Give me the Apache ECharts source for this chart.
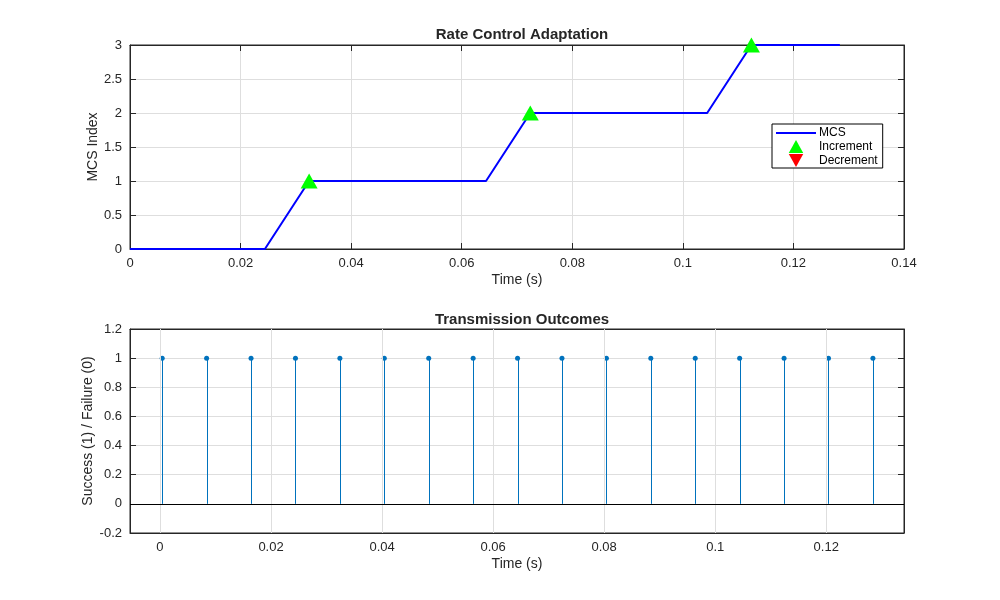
<!DOCTYPE html>
<html>
<head>
<meta charset="utf-8">
<script src="https://cdn.jsdelivr.net/npm/echarts@6/dist/echarts.min.js"></script>
<style>
  html, body { margin: 0; padding: 0; background: #fff; }
  #main { width: 1000px; height: 600px; }
</style>
</head>
<body>
<div id="main"></div>
<script>
// transmission times (s), one per packet
var txTimes = [0.0004, 0.0084, 0.0164, 0.0244, 0.0324, 0.0404, 0.0484, 0.0564, 0.0644,
               0.0724, 0.0804, 0.0884, 0.0964, 0.1044, 0.1124, 0.1204, 0.1284];
var mcsIndex = [0, 0, 0, 0, 1, 1, 1, 1, 1, 2, 2, 2, 2, 2, 3, 3, 3];
var outcome = [1, 1, 1, 1, 1, 1, 1, 1, 1, 1, 1, 1, 1, 1, 1, 1, 1];
var incTimes = [0.0324, 0.0724, 0.1124];
var incValues = [1, 2, 3];
var decTimes = [];
var decValues = [];
var bottomTicks = [0, 0.02, 0.04, 0.06, 0.08, 0.1, 0.12];

var mcsLine = txTimes.map(function (t, i) { return [i === 0 ? 0 : t, mcsIndex[i]]; });
var incPts = incTimes.map(function (t, i) { return [t, incValues[i]]; });
var decPts = decTimes.map(function (t, i) { return [t, decValues[i]]; });
var outPts = txTimes.map(function (t, i) { return [t, outcome[i]]; });

var txt = '#262626';
var gridCol = '#dedede';
var font = 'Liberation Sans, Arial';
var upTri = 'path://M5,0 L10,9 L0,9 Z';
var downTri = 'path://M0,0 L10,0 L5,9 Z';

function axisCommon(extra) {
    var a = {
        type: 'value',
        nameMoveOverlap: false,
        axisLine: { show: true, onZero: false, lineStyle: { color: txt, width: 1 } },
        axisTick: { show: true, inside: true, length: 6, lineStyle: { color: txt } },
        axisLabel: { color: txt, fontSize: 13, fontFamily: font },
        splitLine: { show: true, lineStyle: { color: gridCol } },
        nameTextStyle: { color: txt, fontSize: 14, fontFamily: font }
    };
    for (var k in extra) a[k] = extra[k];
    return a;
}
function mirror(extra) {
    var a = {
        type: 'value',
        axisLine: { show: true, onZero: false, lineStyle: { color: txt } },
        axisTick: { show: true, inside: true, length: 6, lineStyle: { color: txt } },
        axisLabel: { show: false },
        splitLine: { show: false }
    };
    for (var k in extra) a[k] = extra[k];
    return a;
}

var myChart = echarts.init(document.getElementById('main'));
var option = {
    backgroundColor: '#fff',
    animation: false,
    title: [
        { text: 'Rate Control Adaptation', left: 517, top: 22, textAlign: 'center',
          textStyle: { fontSize: 15, fontWeight: 'bold', color: txt, fontFamily: font } },
        { text: 'Transmission Outcomes', left: 517, top: 307, textAlign: 'center',
          textStyle: { fontSize: 15, fontWeight: 'bold', color: txt, fontFamily: font } }
    ],
    legend: {
        orient: 'vertical',
        left: 772, top: 124,
        backgroundColor: '#fff',
        borderColor: '#000', borderWidth: 1,
        borderRadius: 0,
        padding: [3, 5, 1, 4],
        itemGap: 1,
        itemWidth: 40, itemHeight: 13,
        symbolKeepAspect: true,
        textStyle: { fontSize: 12, color: '#000', fontFamily: font, padding: [0, 0, 0, -2] },
        data: [
            { name: 'MCS', icon: 'path://M0,0 L40,0 L40,2 L0,2 Z', itemStyle: { color: '#0000ff' } },
            { name: 'Increment', icon: upTri },
            { name: 'Decrement', icon: downTri }
        ]
    },
    grid: [
        { left: 130, right: 96, top: 45, height: 204, show: true, borderColor: txt, borderWidth: 1, backgroundColor: '#fff' },
        { left: 130, right: 96, top: 329, height: 204, show: true, borderColor: txt, borderWidth: 1, backgroundColor: '#fff' }
    ],
    xAxis: [
        axisCommon({ gridIndex: 0, min: 0, max: 0.14, interval: 0.02, name: 'Time (s)',
            nameLocation: 'middle', nameGap: 24 }),
        axisCommon({ gridIndex: 1, min: -0.0054, max: 0.134, name: 'Time (s)',
            nameLocation: 'middle', nameGap: 24,
            axisTick: { show: true, inside: true, length: 6, lineStyle: { color: txt }, customValues: bottomTicks },
            axisLabel: { color: txt, fontSize: 13, fontFamily: font, customValues: bottomTicks },
            splitLine: { show: false } }),
        mirror({ gridIndex: 0, position: 'top', min: 0, max: 0.14, interval: 0.02 }),
        mirror({ gridIndex: 1, position: 'top', min: -0.0054, max: 0.134,
            axisTick: { show: true, inside: true, length: 6, lineStyle: { color: txt }, customValues: bottomTicks } })
    ],
    yAxis: [
        axisCommon({ gridIndex: 0, min: 0, max: 3, interval: 0.5, name: 'MCS Index',
            nameLocation: 'middle', nameGap: 30 }),
        axisCommon({ gridIndex: 1, min: -0.2, max: 1.2, interval: 0.2, name: 'Success (1) / Failure (0)',
            nameLocation: 'middle', nameGap: 35,
            axisLabel: { color: txt, fontSize: 13, fontFamily: font,
                formatter: function (v) { return String(Math.round(v * 10) / 10); } } }),
        mirror({ gridIndex: 0, position: 'right', min: 0, max: 3, interval: 0.5 }),
        mirror({ gridIndex: 1, position: 'right', min: -0.2, max: 1.2, interval: 0.2 })
    ],
    series: [
        {
            name: 'MCS', type: 'line', xAxisIndex: 0, yAxisIndex: 0,
            data: mcsLine, showSymbol: false, symbol: 'none',
            lineStyle: { color: '#0000ff', width: 2 }, itemStyle: { color: '#0000ff' }, z: 3
        },
        {
            name: 'Increment', type: 'scatter', xAxisIndex: 0, yAxisIndex: 0,
            data: incPts, symbol: upTri, symbolSize: [17, 15],
            itemStyle: { color: '#00ff00', opacity: 1 }, z: 4
        },
        {
            name: 'Decrement', type: 'scatter', xAxisIndex: 0, yAxisIndex: 0,
            data: decPts, symbol: downTri, symbolSize: [17, 15],
            itemStyle: { color: '#ff0000', opacity: 1 }, z: 4
        },
        {
            name: 'gridlines', type: 'line', xAxisIndex: 1, yAxisIndex: 1, data: [],
            markLine: {
                silent: true, symbol: 'none', label: { show: false },
                lineStyle: { color: gridCol, type: 'solid', width: 1 },
                data: bottomTicks.map(function (v) { return { xAxis: v }; })
            }, z: 1
        },
        {
            name: 'stem', type: 'custom', xAxisIndex: 1, yAxisIndex: 1,
            data: outPts, z: 3,
            renderItem: function (params, api) {
                var top = api.coord([api.value(0), api.value(1)]);
                var base = api.coord([api.value(0), 0]);
                var x = Math.round(top[0]) + 0.5;
                return {
                    type: 'line',
                    shape: { x1: x, y1: base[1], x2: x, y2: top[1] },
                    style: { stroke: '#0072BD', lineWidth: 1 }
                };
            }
        },
        {
            name: 'outcome', type: 'scatter', xAxisIndex: 1, yAxisIndex: 1,
            data: outPts, symbolSize: 5, itemStyle: { color: '#0072BD', opacity: 1 }, z: 4,
            markLine: {
                silent: true, symbol: 'none', label: { show: false },
                lineStyle: { color: '#000', type: 'solid', width: 1 },
                data: [{ yAxis: 0 }]
            }
        }
    ]
};
myChart.setOption(option);
</script>
</body>
</html>
